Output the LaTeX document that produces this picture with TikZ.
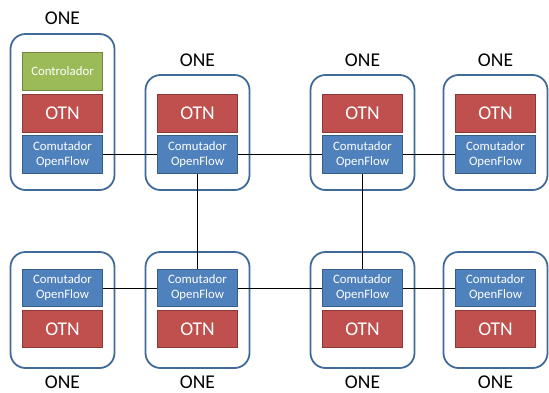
\documentclass[tikz,border=0pt]{standalone}
\usepackage{fontspec}
\setmainfont{Carlito}
\definecolor{oneblue}{HTML}{3F6A9A}
\definecolor{swblue}{HTML}{4F81BD}
\definecolor{swborder}{HTML}{385D8A}
\definecolor{otnred}{HTML}{C0504D}
\definecolor{otnborder}{HTML}{8C3836}
\definecolor{ctlgreen}{HTML}{9BBB59}
\definecolor{ctlborder}{HTML}{71893F}
\begin{document}
\begin{tikzpicture}[x=1pt,y=-1pt,
 outer/.style={draw=oneblue, line width=1.8pt, rounded corners=15pt, minimum width=104pt, inner sep=0pt, fill=white},
 innerbox/.style={minimum width=80pt, minimum height=37.5pt, inner sep=0pt, text=white, line width=0.9pt, align=center},
 sw/.style={innerbox, fill=swblue, draw=swborder, font=\fontsize{12.8}{15}\selectfont},
 otn/.style={innerbox, fill=otnred, draw=otnborder, font=\fontsize{19.5}{21}\selectfont},
 ctl/.style={innerbox, fill=ctlgreen, draw=ctlborder, font=\fontsize{12.8}{15}\selectfont},
 lbl/.style={font=\fontsize{19.5}{21}\selectfont, inner sep=0pt},
 link/.style={draw=black, line width=0.9pt}]
\useasboundingbox (0,0) rectangle (549,392);
% outer boxes
\node[outer, minimum height=156pt] (o1) at (62.5,112) {};
\node[outer, minimum height=115pt] (o2) at (197.5,132.5) {};
\node[outer, minimum height=115pt] (o3) at (362.5,132.5) {};
\node[outer, minimum height=115pt] (o4) at (495.5,132.5) {};
\node[outer, minimum height=116pt] (o5) at (62.5,310) {};
\node[outer, minimum height=116pt] (o6) at (197.5,310) {};
\node[outer, minimum height=116pt] (o7) at (362.5,310) {};
\node[outer, minimum height=116pt] (o8) at (495.5,310) {};
% labels
\node[lbl] (l1) at (62.5,18) {ONE};
\node[lbl] (l2) at (197.5,60) {ONE};
\node[lbl] (l3) at (362.5,60) {ONE};
\node[lbl] (l4) at (495.5,60) {ONE};
\node[lbl] (l5) at (62.5,382) {ONE};
\node[lbl] (l6) at (197.5,382) {ONE};
\node[lbl] (l7) at (362.5,382) {ONE};
\node[lbl] (l8) at (495.5,382) {ONE};
% inner boxes top
\node[ctl] (c1) at (62.5,71.5) {Controlador};
\node[otn] (t1) at (62.5,113.5) {OTN};
\node[sw] (s1) at (62.5,154.5) {Comutador\\OpenFlow};
\node[otn] (t2) at (197.5,113.5) {OTN};
\node[sw] (s2) at (197.5,154.5) {Comutador\\OpenFlow};
\node[otn] (t3) at (362.5,113.5) {OTN};
\node[sw] (s3) at (362.5,154.5) {Comutador\\OpenFlow};
\node[otn] (t4) at (495.5,113.5) {OTN};
\node[sw] (s4) at (495.5,154.5) {Comutador\\OpenFlow};
% inner boxes bottom
\node[sw] (s5) at (62.5,288) {Comutador\\OpenFlow};
\node[otn] (t5) at (62.5,329) {OTN};
\node[sw] (s6) at (197.5,288) {Comutador\\OpenFlow};
\node[otn] (t6) at (197.5,329) {OTN};
\node[sw] (s7) at (362.5,288) {Comutador\\OpenFlow};
\node[otn] (t7) at (362.5,329) {OTN};
\node[sw] (s8) at (495.5,288) {Comutador\\OpenFlow};
\node[otn] (t8) at (495.5,329) {OTN};
% links
\draw[link] (s1) -- (s2);
\draw[link] (s2) -- (s3);
\draw[link] (s3) -- (s4);
\draw[link] (s5) -- (s6);
\draw[link] (s6) -- (s7);
\draw[link] (s7) -- (s8);
\draw[link] (s2) -- (s6);
\draw[link] (s3) -- (s7);
\end{tikzpicture}
\end{document}
